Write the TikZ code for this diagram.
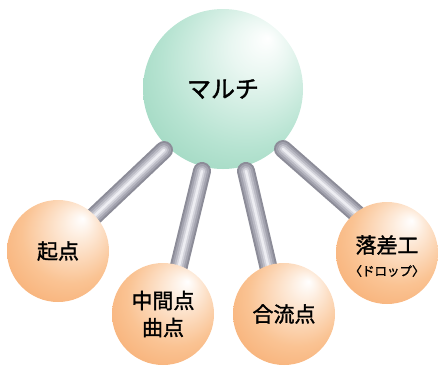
\documentclass[tikz,border=0pt]{standalone}
\usepackage{fontspec}
\newfontfamily\jp[FakeBold=1.6]{Noto Sans CJK JP}
\usetikzlibrary{calc}
\definecolor{gA}{HTML}{90D0B6}
\definecolor{gB}{HTML}{B6E3D1}
\definecolor{oA}{HTML}{F6A566}
\definecolor{oB}{HTML}{FAC393}
\definecolor{r1}{HTML}{8C8C98}
\definecolor{r2}{HTML}{A2A2AE}
\definecolor{r3}{HTML}{BABAC4}
\definecolor{r4}{HTML}{D4D4DC}
\definecolor{r5}{HTML}{EDEDF2}
\pgfdeclareradialshading{greenball}{\pgfpoint{14bp}{16bp}}{color(0bp)=(white); color(9bp)=(white!70!gB); color(26bp)=(gB); color(42bp)=(gA); color(50bp)=(gA)}
\pgfdeclareradialshading{orangeball}{\pgfpoint{12bp}{16bp}}{color(0bp)=(white); color(8bp)=(white!65!oB); color(24bp)=(oB); color(42bp)=(oA); color(50bp)=(oA)}
\tikzset{
  mainball/.style={circle, minimum size=160pt, inner sep=0pt, shading=greenball, font=\jp\fontsize{24}{26}\selectfont},
  subball/.style={circle, minimum size=102pt, inner sep=0pt, shading=orangeball, font=\jp\fontsize{21}{27}\selectfont, align=center},
  rodA/.style={line width=18pt, r1, line cap=round},
  rodB/.style={line width=14pt, r2, line cap=round},
  rodC/.style={line width=10pt, r3, line cap=round},
  rodD/.style={line width=6pt, r4, line cap=round},
  rodE/.style={line width=2.5pt, r5, line cap=round}
}
\newcommand{\myrod}[2]{%
  \draw[rodA] (#1) -- (#2);
  \draw[rodB] (#1) -- (#2);
  \draw[rodC] (#1) -- (#2);
  \draw[rodD] (#1) -- (#2);
  \draw[rodE] (#1) -- (#2);}
\begin{document}
\begin{tikzpicture}[x=1pt,y=-1pt]
\useasboundingbox (0,0) rectangle (438,365);
\node[mainball] (main) at (223,89) {マルチ};
\coordinate (t1) at (164,150);
\coordinate (b1) at (90,220);
\coordinate (t2) at (202,171);
\coordinate (b2) at (176,278);
\coordinate (t3) at (246,171);
\coordinate (b3) at (271,278);
\coordinate (t4) at (283,149);
\coordinate (b4) at (357,214);
\myrod{t1}{b1}
\myrod{t2}{b2}
\myrod{t3}{b3}
\myrod{t4}{b4}
\node[subball] (s1) at (58,251) {起点};
\node[subball] (s2) at (163,314) {中間点\\曲点};
\node[subball] (s3) at (284,314) {合流点};
\node[subball] (s4) at (387,253) {};
\node[font=\jp\fontsize{21}{24}\selectfont] (s4a) at (387,245) {落差工};
\node[font=\jp\fontsize{12.5}{14}\selectfont] (s4b) at (387,271) {〈ドロップ〉};
\end{tikzpicture}
\end{document}
